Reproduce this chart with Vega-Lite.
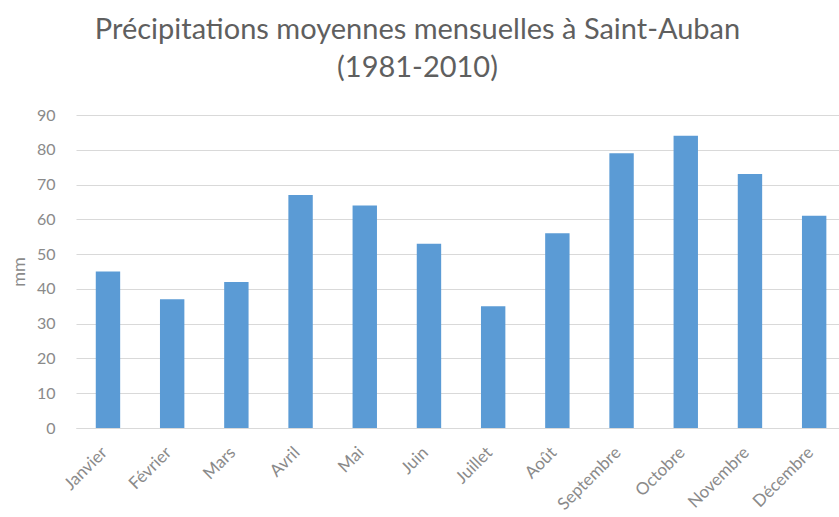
{
  "$schema": "https://vega.github.io/schema/vega-lite/v6.json",
  "width": 763,
  "height": 313,
  "autosize": {"type": "none"},
  "padding": {"left": 76, "top": 115, "right": 0, "bottom": 89},
  "background": "white",
  "config": {
    "view": {"stroke": null},
    "font": "Lato"
  },
  "title": {
    "text": ["Précipitations moyennes mensuelles à Saint-Auban", "(1981-2010)"],
    "fontSize": 29,
    "fontWeight": "normal",
    "color": "#5f5f5f",
    "anchor": "middle",
    "frame": "group",
    "dx": -40,
    "lineHeight": 38,
    "offset": 24
  },
  "data": {
    "values": [
      {"mois": "Janvier", "mm": 45},
      {"mois": "Février", "mm": 37},
      {"mois": "Mars", "mm": 42},
      {"mois": "Avril", "mm": 67},
      {"mois": "Mai", "mm": 64},
      {"mois": "Juin", "mm": 53},
      {"mois": "Juillet", "mm": 35},
      {"mois": "Août", "mm": 56},
      {"mois": "Septembre", "mm": 79},
      {"mois": "Octobre", "mm": 84},
      {"mois": "Novembre", "mm": 73},
      {"mois": "Décembre", "mm": 61}
    ]
  },
  "mark": {"type": "bar", "color": "#5b9bd5"},
  "encoding": {
    "x": {
      "field": "mois",
      "type": "nominal",
      "sort": null,
      "scale": {"paddingInner": 0.62, "paddingOuter": 0.2525, "align": 0.61},
      "axis": {
        "title": null,
        "labelAngle": -45,
        "labelFontSize": 17,
        "labelColor": "#8a8a8a",
        "labelPadding": 16,
        "labelOffset": -9,
        "ticks": false,
        "domainColor": "#d9d9d9",
        "domainWidth": 1
      }
    },
    "y": {
      "field": "mm",
      "type": "quantitative",
      "scale": {"domain": [0, 90], "nice": false},
      "axis": {
        "title": "mm",
        "titleFontSize": 18,
        "titleFontWeight": "normal",
        "titleColor": "#8a8a8a",
        "titlePadding": 8,
        "values": [0, 10, 20, 30, 40, 50, 60, 70, 80, 90],
        "labelFontSize": 16,
        "labelColor": "#8a8a8a",
        "labelPadding": 21,
        "ticks": false,
        "domain": false,
        "gridColor": "#d9d9d9",
        "gridWidth": 1
      }
    }
  }
}
